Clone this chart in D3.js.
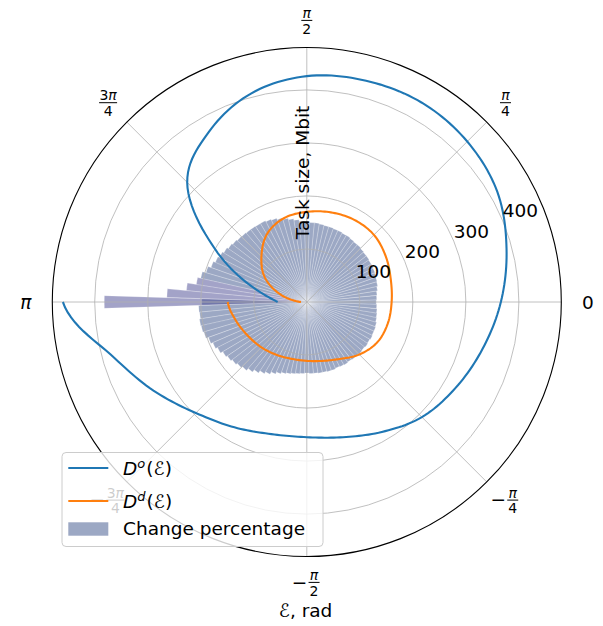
<!DOCTYPE html>
<html>
<head>
<meta charset="utf-8">
<script src="https://cdn.jsdelivr.net/npm/d3@7"></script>
<style>
  html, body { margin: 0; padding: 0; background: #fff; }
  svg { display: block; font-family: "DejaVu Sans", sans-serif; }
</style>
</head>
<body>
<svg id="chart" width="603" height="626"></svg>
<script>
// Angular ticks (degrees) and their labels
const thetaTicksDeg = [0, 45, 90, 135, 180, -135, -90, -45];
const thetaTickLabels = ["0", "π/4", "π/2", "3π/4", "π", "−3π/4", "−π/2", "−π/4"];
// Radial ticks (Mbit)
const rTicks = [100, 200, 300, 400];
const rMax = 480;

// Task-size curves, sampled every 15 degrees from π down to −π
const curveAnglesDeg = [180, 165, 150, 135, 120, 105, 90, 75, 60, 45, 30, 15, 0,
  -15, -30, -45, -60, -75, -90, -105, -120, -135, -150, -165, -180];
const sizeOffload = [55, 104, 200, 319, 370, 407, 426, 432, 434, 428, 415, 390, 366,
  343, 324, 307, 283, 264, 255, 258, 273, 296, 334, 383, 460];
const sizeLocal = [11, 49, 91, 121, 149, 164, 170, 175, 179, 179, 172, 164, 160,
  158, 153, 140, 124, 115, 111, 111, 115, 121, 128, 138, 149];

// Change percentage, one bar per step of 2π/100 from −π to π
const changeValues = [
  198, 204, 203, 205, 204, 202, 197, 193, 189, 184,
  181, 178, 175, 172, 167, 162, 157, 153, 148, 144,
  141, 139, 137, 136, 135, 134, 135, 135, 136, 136,
  137, 137, 136, 137, 138, 137, 138, 138, 139, 138,
  139, 138, 139, 138, 138, 137, 135, 134, 133, 132,
  131, 132, 133, 135, 137, 138, 139, 140, 141, 141,
  142, 142, 143, 144, 144, 145, 146, 146, 147, 147,
  148, 148, 149, 150, 150, 151, 153, 156, 159, 162,
  165, 168, 170, 172, 172, 173, 173, 174, 175, 177,
  179, 182, 185, 188, 192, 198, 205, 211, 228, 264,
  382
];

const cx = 306.8, cy = 302, R = 254.5;
const svg = d3.select("#chart");
const g = svg.append("g").attr("transform", `translate(${cx},${cy})`);

const r = d3.scaleLinear().domain([0, rMax]).range([0, R]);
const toRad = d => d * Math.PI / 180;
// d3 measures angles clockwise from 12 o'clock; polar θ is counter-clockwise from 3 o'clock
const d3Angle = th => Math.PI / 2 - th;

// Bars
const nSteps = changeValues.length - 1;
const barWidth = 2 * Math.PI / nSteps;
const barAngles = changeValues.map((_, i) => -Math.PI + i * barWidth);
const barColor = d3.scaleThreshold().domain([207]).range(["#3a5289", "#474791"]);
const arc = d3.arc();
g.append("g").selectAll("path")
  .data(changeValues.map((v, i) => ({ v, th: barAngles[i] })))
  .join("path")
  .attr("d", d => arc({
    innerRadius: 0,
    outerRadius: r(d.v),
    startAngle: d3Angle(d.th) - barWidth / 2,
    endAngle: d3Angle(d.th) + barWidth / 2
  }))
  .attr("fill", d => barColor(d.v))
  .attr("fill-opacity", 0.5)
  .attr("stroke", "#fff")
  .attr("stroke-opacity", 0.55)
  .attr("stroke-width", 0.45);

// Grid
const grid = g.append("g").attr("fill", "none").attr("stroke", "#b0b0b0").attr("stroke-width", 0.8);
grid.selectAll("circle").data(rTicks).join("circle").attr("r", d => r(d));
grid.selectAll("line").data(thetaTicksDeg).join("line")
  .attr("x1", 0).attr("y1", 0)
  .attr("x2", d => R * Math.cos(toRad(d)))
  .attr("y2", d => -R * Math.sin(toRad(d)));

// Outer spine
g.append("circle").attr("r", R).attr("fill", "none").attr("stroke", "#000").attr("stroke-width", 1.1);

// Curves: smooth the radius along θ (Catmull-Rom in polar space), then draw radially
function polarPath(anglesDeg, values) {
  const pts = [];
  const n = values.length;
  const v = i => values[Math.max(0, Math.min(n - 1, i))];
  const steps = 12;
  for (let i = 0; i < n - 1; i++) {
    for (let s = 0; s < steps; s++) {
      const t = s / steps;
      const p0 = v(i - 1), p1 = v(i), p2 = v(i + 1), p3 = v(i + 2);
      const t2 = t * t, t3 = t2 * t;
      const rv = 0.5 * ((2 * p1) + (-p0 + p2) * t + (2 * p0 - 5 * p1 + 4 * p2 - p3) * t2 +
        (-p0 + 3 * p1 - 3 * p2 + p3) * t3);
      pts.push([anglesDeg[i] + (anglesDeg[i + 1] - anglesDeg[i]) * t, rv]);
    }
  }
  pts.push([anglesDeg[n - 1], values[n - 1]]);
  return d3.lineRadial()
    .angle(d => d3Angle(toRad(d[0])))
    .radius(d => r(d[1]))(pts);
}
g.append("path")
  .attr("d", polarPath(curveAnglesDeg, sizeOffload))
  .attr("fill", "none").attr("stroke", "#1f77b4").attr("stroke-width", 2.1);
g.append("path")
  .attr("d", polarPath(curveAnglesDeg, sizeLocal))
  .attr("fill", "none").attr("stroke", "#ff7f0e").attr("stroke-width", 2.1);

// Radial tick labels at 22.5°
const rlab = toRad(22.5);
g.append("g").selectAll("text").data(rTicks).join("text")
  .attr("x", d => r(d) * Math.cos(rlab))
  .attr("y", d => -r(d) * Math.sin(rlab) - 3.5)
  .attr("font-size", 18.5)
  .attr("fill", "#000")
  .text(d => d);

// Angular tick labels
const labDist = 281;
thetaTicksDeg.forEach((deg, i) => {
  const label = thetaTickLabels[i];
  const x = labDist * Math.cos(toRad(deg));
  const y = -labDist * Math.sin(toRad(deg));
  const lg = g.append("g").attr("transform", `translate(${x},${y})`);
  if (!label.includes("/")) {
    lg.append("text").attr("text-anchor", "middle").attr("dominant-baseline", "central")
      .attr("font-size", 18.5)
      .attr("font-style", label === "π" ? "italic" : "normal")
      .text(label);
    return;
  }
  const neg = label.startsWith("−");
  const [num, den] = label.replace("−", "").split("/");
  const fracW = num.length > 1 ? 18 : 11;
  const minusW = neg ? 11 : 0, gap = neg ? 3.5 : 0;
  const total = minusW + gap + fracW;
  const x0 = -total / 2;
  if (neg) {
    lg.append("text").attr("x", x0 + minusW / 2).attr("y", 5.6)
      .attr("text-anchor", "middle").attr("font-size", 18.5).text("−");
  }
  const fx = x0 + minusW + gap + fracW / 2;
  const numText = lg.append("text").attr("x", fx).attr("y", -3.0)
    .attr("text-anchor", "middle").attr("font-size", 14);
  const digits = num.replace("π", "");
  if (digits) numText.append("tspan").text(digits);
  numText.append("tspan").attr("font-style", "italic").text("π");
  lg.append("line").attr("x1", fx - fracW / 2).attr("x2", fx + fracW / 2)
    .attr("y1", -0.6).attr("y2", -0.6).attr("stroke", "#000").attr("stroke-width", 1);
  lg.append("text").attr("x", fx).attr("y", 12.6)
    .attr("text-anchor", "middle").attr("font-size", 14).text(den);
});

// Axis labels
svg.append("text")
  .attr("transform", "translate(302.5,172.5) rotate(-90)")
  .attr("text-anchor", "middle").attr("dominant-baseline", "central")
  .attr("font-size", 18.5).text("Task size, Mbit");
const xl = svg.append("text").attr("x", 305.5).attr("y", 617)
  .attr("text-anchor", "middle").attr("font-size", 18.5);
xl.append("tspan").attr("font-style", "italic").text("ℰ");
xl.append("tspan").text(", rad");

// Legend
const legend = svg.append("g");
legend.append("rect")
  .attr("x", 62).attr("y", 452.5).attr("width", 261).attr("height", 94)
  .attr("rx", 4).attr("fill", "#fff").attr("fill-opacity", 0.8)
  .attr("stroke", "#cccccc").attr("stroke-width", 1);
const legendItems = [
  { kind: "line", color: "#1f77b4", sup: "o", y: 468 },
  { kind: "line", color: "#ff7f0e", sup: "d", y: 501 },
  { kind: "bar", color: "#3a5289", text: "Change percentage", y: 529 }
];
legendItems.forEach(it => {
  if (it.kind === "line") {
    legend.append("line").attr("x1", 68.3).attr("x2", 108.3).attr("y1", it.y).attr("y2", it.y)
      .attr("stroke", it.color).attr("stroke-width", 2.1);
    const t = legend.append("text").attr("x", 123).attr("y", it.y + 6.5).attr("font-size", 18.5);
    t.append("tspan").attr("font-style", "italic").text("D");
    t.append("tspan").attr("font-style", "italic").attr("font-size", 13).attr("dy", -7).text(it.sup);
    t.append("tspan").attr("dy", 7).attr("dx", 1).text("(");
    t.append("tspan").attr("font-style", "italic").text("ℰ");
    t.append("tspan").text(")");
  } else {
    legend.append("rect").attr("x", 68.3).attr("y", it.y - 6.7).attr("width", 40).attr("height", 13.4)
      .attr("fill", it.color).attr("fill-opacity", 0.5);
    legend.append("text").attr("x", 123).attr("y", it.y + 6).attr("font-size", 18.5).text(it.text);
  }
});
</script>
</body>
</html>
